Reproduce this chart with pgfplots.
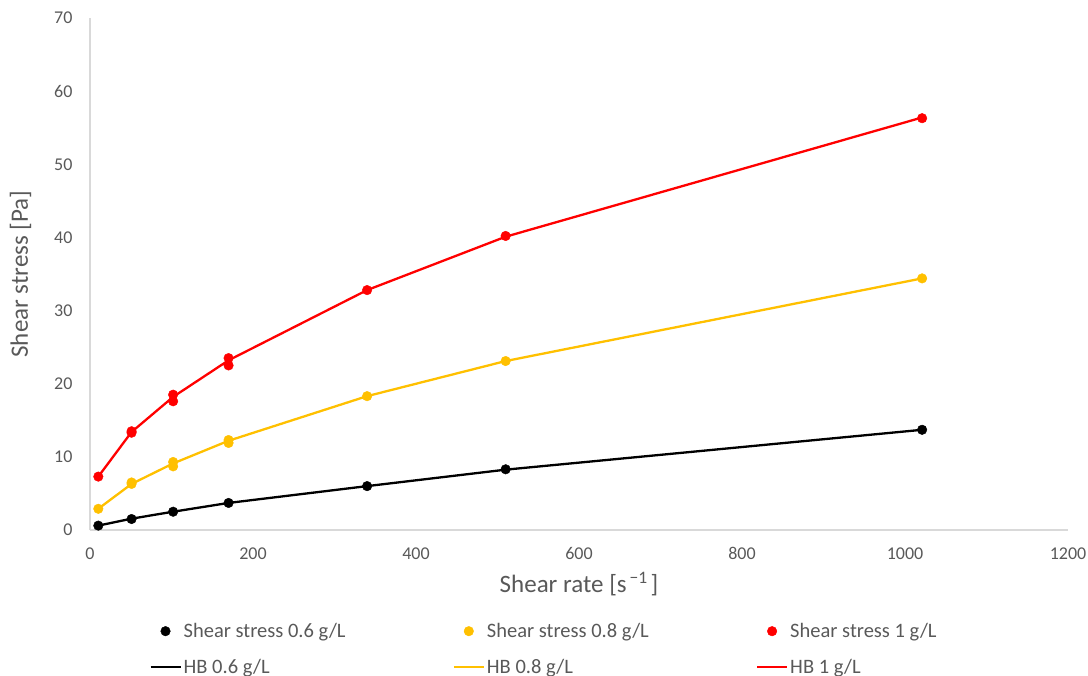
\documentclass[border=0pt]{standalone}
\usepackage{pgfplots}
\pgfplotsset{compat=1.18}
\usepackage{fontspec}
\setmainfont{Carlito}
\definecolor{txtgray}{HTML}{595959}
\definecolor{axgray}{HTML}{D9D9D9}
\definecolor{hbyellow}{HTML}{FFC000}
\definecolor{hbred}{HTML}{FF0000}
\begin{document}
\begin{tikzpicture}
\path[use as bounding box] (0,0) rectangle (1088bp,676bp);
\begin{axis}[
  at={(90bp,146bp)}, anchor=south west,
  scale only axis, width=978bp, height=512bp,
  xmin=0, xmax=1200, ymin=0, ymax=70,
  xtick={0,200,...,1200}, ytick={0,10,...,70},
  axis x line*=bottom, axis y line*=left,
  axis line style={axgray, line width=1.2bp, -},
  major tick length=0pt,
  tick label style={txtgray, font=\fontsize{18bp}{21bp}\selectfont},
  /pgf/number format/assume math mode=true,
  /pgf/number format/1000 sep={},
  xticklabel style={yshift=-14bp},
  yticklabel style={xshift=-14bp},
  xlabel={Shear rate [s\textsuperscript{\,−1\,}]},
  ylabel={Shear stress [Pa]},
  label style={txtgray, font=\fontsize{25bp}{29bp}\selectfont},
  xlabel style={yshift=-5bp},
  ylabel style={yshift=16bp},
  legend columns=3,
  legend style={at={(0.0605,-0.178)}, anchor=north west, draw=none, fill=none,
    font=\fontsize{20.5bp}{24bp}\selectfont, text=txtgray,
    row sep=16bp, column sep=0pt, inner sep=0pt},
  legend cell align=left,
  legend image code/.code={\draw[mark repeat=2, mark phase=2, #1]
    plot coordinates {(0bp,0bp) (15bp,0bp) (30bp,0bp)};},
]
% measured shear stress
\addplot[only marks, mark=*, mark size=4.8bp, black] coordinates {
  (10.2,0.6) (51,1.5) (102,2.5) (170,3.7) (340,6.0) (510,8.3) (1021,13.7)};
\addlegendentry{\makebox[267bp][l]{Shear stress 0.6 g/L}}
\addplot[only marks, mark=*, mark size=4.8bp, hbyellow] coordinates {
  (10.2,2.9) (51,6.3) (51,6.5) (102,9.3) (102,8.7) (170,12.3) (170,11.9)
  (340,18.3) (510,23.1) (1021,34.4)};
\addlegendentry{\makebox[267bp][l]{Shear stress 0.8 g/L}}
\addplot[only marks, mark=*, mark size=4.8bp, hbred] coordinates {
  (10.2,7.3) (51,13.3) (51,13.5) (102,18.5) (102,17.6) (170,23.5) (170,22.5)
  (340,32.8) (510,40.2) (1021,56.3)};
\addlegendentry{\makebox[267bp][l]{Shear stress 1 g/L}}
% Herschel-Bulkley fits
\addplot[black, line width=2.3bp, no marks] coordinates {
  (10.2,0.6) (51,1.55) (102,2.5) (170,3.7) (340,6.0) (510,8.25) (1021,13.7)};
\addlegendentry{\makebox[267bp][l]{HB 0.6 g/L}}
\addplot[hbyellow, line width=2.3bp, no marks] coordinates {
  (10.2,2.9) (51,6.3) (102,9.1) (170,12.2) (340,18.3) (510,23.1) (1021,34.4)};
\addlegendentry{\makebox[267bp][l]{HB 0.8 g/L}}
\addplot[hbred, line width=2.3bp, no marks] coordinates {
  (10.2,7.3) (51,13.4) (102,18.2) (170,23.2) (340,32.8) (510,40.1) (1021,56.4)};
\addlegendentry{\makebox[267bp][l]{HB 1 g/L}}
\end{axis}
\end{tikzpicture}
\end{document}
